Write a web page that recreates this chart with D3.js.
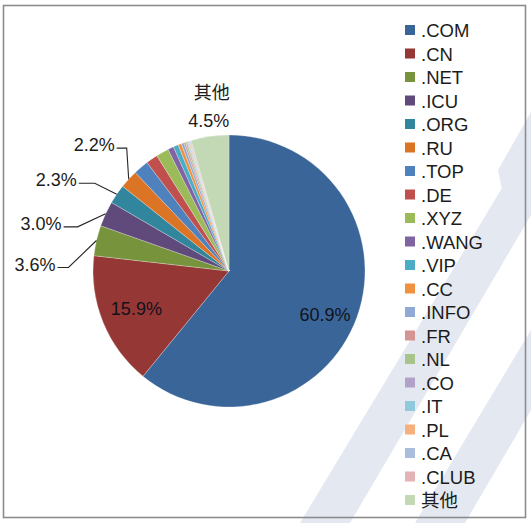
<!DOCTYPE html>
<html><head><meta charset="utf-8">
<script src="https://cdn.jsdelivr.net/npm/d3@7"></script>
<style>html,body{margin:0;padding:0;background:#fff;}svg{display:block;}</style>
</head><body>
<script>
// ---- data ----
const categories = [".COM",".CN",".NET",".ICU",".ORG",".RU",".TOP",".DE",".XYZ",".WANG",".VIP",".CC",".INFO",".FR",".NL",".CO",".IT",".PL",".CA",".CLUB","其他"];
const shares     = [60.9, 15.9, 3.6, 3.0, 2.3, 2.2, 1.8, 1.4, 1.5, 0.7, 0.6, 0.4, 0.3, 0.2, 0.2, 0.1, 0.1, 0.1, 0.1, 0.1, 4.5];
const labelled   = [".COM",".CN",".NET",".ICU",".ORG",".RU","其他"];
const colors = ["#3a6598","#953735","#77933c","#604a7b","#31859c","#dc7426",
                "#4f81bd","#c0504d","#9bbb59","#8064a2","#4bacc6","#f0913f",
                "#8fabd3","#d49492","#a8c48a","#b3a2c7","#8ecadb","#f5b07e",
                "#a9bddc","#e2b4b6","#c3d9b6"];

const W = 531, H = 523;
const cx = 229, cy = 271, R = 136;

const svg = d3.select("body").append("svg").attr("width", W).attr("height", H);

// faint watermark
const wm = svg.append("g").attr("fill", "#e4e8f1");
[
  [[300,523],[350,523],[531,215],[531,140]],
  [[415,523],[465,523],[531,410],[531,330]],
  [[505,205],[531,160],[531,112],[498,170]],
  [[440,300],[470,300],[505,240],[475,240]]
].forEach(p => wm.append("polygon").attr("points", p.map(d => d.join(",")).join(" ")));

// border
svg.append("rect").attr("x", 3.5).attr("y", 5.5).attr("width", 522).attr("height", 512)
  .attr("fill", "none").attr("stroke", "#8c8c8c").attr("stroke-width", 1.6);

const color = d3.scaleOrdinal().domain(categories).range(colors);
const data = categories.map((c, i) => ({ name: c, value: shares[i] }));

const pie = d3.pie().value(d => d.value).sort(null);
const arcs = pie(data);
const arc = d3.arc().innerRadius(0).outerRadius(R);

const g = svg.append("g").attr("transform", `translate(${cx},${cy})`);
g.selectAll("path").data(arcs).join("path")
  .attr("d", arc)
  .attr("fill", d => color(d.data.name))
  .attr("stroke", "#ffffff").attr("stroke-opacity", 0.45).attr("stroke-width", 0.6);

const font = "'Liberation Sans', Arial, 'Noto Sans CJK SC', sans-serif";
const fmt = v => v.toFixed(1) + "%";
const ink = "#1c1c1c";

// label layout (relative offsets)
const inside = { ".COM": { rho: 102, dy: 10 }, ".CN": { rho: 100, dy: 0 } };
const outside = {
  ".RU":  { ex: -2,  ey: -31, len: 10 },
  ".ORG": { ex: -22, ey: -11, len: 16 },
  ".ICU": { ex: -28, ey: 13,  len: 14 },
  ".NET": { ex: -28, ey: 27,  len: 11 }
};
const edge = (d, rho) => {
  const a = (d.startAngle + d.endAngle) / 2;
  return [rho * Math.sin(a), -rho * Math.cos(a)];
};

arcs.filter(d => labelled.includes(d.data.name)).forEach(d => {
  const n = d.data.name;
  if (inside[n]) {
    const [x, y] = edge(d, inside[n].rho);
    g.append("text").attr("x", x).attr("y", y + inside[n].dy)
      .attr("text-anchor", "middle").attr("dominant-baseline", "central")
      .attr("font-family", font).attr("font-size", 18).attr("fill", "#12121c")
      .text(fmt(d.data.value));
  } else if (outside[n]) {
    const o = outside[n];
    const [x, y] = edge(d, R);
    const ex = x + o.ex, ey = y + o.ey, hx = ex - o.len;
    g.append("polyline").attr("points", `${x},${y} ${ex},${ey} ${hx},${ey}`)
      .attr("fill", "none").attr("stroke", "#262626").attr("stroke-width", 1.1);
    g.append("text").attr("x", hx - 2).attr("y", ey + 3)
      .attr("text-anchor", "end")
      .attr("font-family", font).attr("font-size", 18).attr("fill", ink)
      .text(fmt(d.data.value));
  } else {
    const [x, y] = edge(d, R);
    g.append("text").attr("x", x - 1).attr("y", y - 9)
      .attr("text-anchor", "middle")
      .attr("font-family", font).attr("font-size", 18).attr("fill", ink)
      .text(fmt(d.data.value));
    g.append("text").attr("x", x + 2).attr("y", y - 37)
      .attr("text-anchor", "middle")
      .attr("font-family", font).attr("font-size", 18).attr("fill", ink)
      .text(n);
  }
});

// legend
const ly = d3.scalePoint().domain(categories).range([30, 500]);
const lg = svg.append("g");
const items = lg.selectAll("g").data(categories).join("g")
  .attr("transform", c => `translate(405,${ly(c)})`);
items.append("rect").attr("x", 0).attr("y", -5).attr("width", 10).attr("height", 10)
  .attr("fill", c => color(c));
items.append("text").attr("x", 16).attr("y", 0.5).attr("dominant-baseline", "central")
  .attr("font-family", font).attr("font-size", 18.5).attr("fill", ink)
  .text(c => c);
</script>
</body></html>
